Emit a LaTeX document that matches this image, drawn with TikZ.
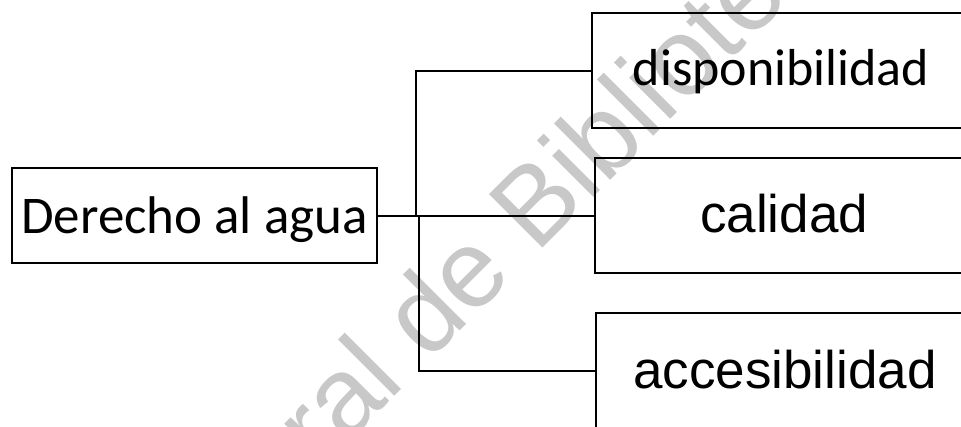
\documentclass[tikz,border=0pt]{standalone}
\usepackage{fontspec}
\setmainfont{Carlito}
\newfontfamily\arialf{Liberation Sans}
\definecolor{wmgray}{RGB}{200,200,200}
\tikzset{
  box/.style={draw, line width=2pt, inner sep=0pt, align=center},
  leftbox/.style={box, minimum width=365pt, minimum height=95pt,
    font=\fontsize{53}{60}\selectfont},
  rightbox/.style={box, minimum width=378pt, minimum height=115pt,
    font=\fontsize{52}{60}\selectfont},
  link/.style={line width=2pt},
  watermark/.style={text=wmgray, rotate=45, inner sep=0pt,
    font=\arialf\fontsize{110}{120}\selectfont}
}
\begin{document}
\begin{tikzpicture}[x=1pt,y=-1pt]
  \useasboundingbox (0,0) rectangle (961,426);
  \clip (0,0) rectangle (961,426);

  % background watermark
  \node[watermark] (wm) at (528,207) {ral de Bibliote};

  % boxes
  \node[leftbox, text height=40pt, text depth=5pt] (der) at (194.5,215.5) {Derecho al agua};
  \node[rightbox, text height=36pt, text depth=7pt] (disp) at (781,70.5) {disponibilidad};
  \node[rightbox, font=\arialf\fontsize{53}{60}\selectfont, text height=38pt, text depth=5pt] (cal) at (784,215.5) {calidad};
  \node[rightbox, font=\arialf\fontsize{53}{60}\selectfont, text height=39pt, text depth=4pt] (acc) at (785,370.5) {accesibilidad};

  % branching connectors
  \coordinate (jtop) at (416,215);
  \coordinate (jbot) at (419,215);
  \draw[link] (der.east) -- (cal.west);
  \draw[link] (jtop) -- (jtop |- disp.west) -- (disp.west);
  \draw[link] (jbot) -- (jbot |- acc.west) -- (acc.west);
\end{tikzpicture}
\end{document}
